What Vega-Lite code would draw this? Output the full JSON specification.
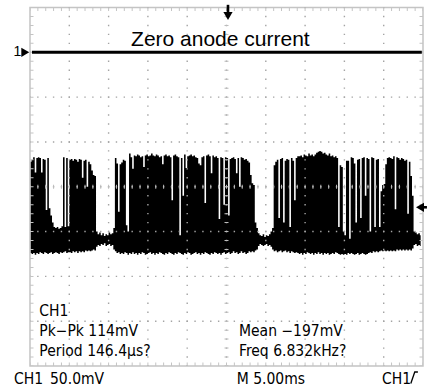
{
  "$schema": "https://vega.github.io/schema/vega-lite/v6.json",
  "autosize": {"type": "none"},
  "width": 393,
  "height": 358.5,
  "padding": {"left": 30, "top": 7.5, "right": 5, "bottom": 24},
  "background": "white",
  "config": {"view": {"stroke": "#c4c4c4", "strokeWidth": 1.5}},
  "datasets": {
    "signal": [
      {"t":-24.9,"hi":-122,"lo":-224},{"t":-24.7,"hi":-120,"lo":-225},{"t":-24.5,"hi":-117,"lo":-224},{"t":-24.3,"hi":-134,"lo":-226},
      {"t":-24.1,"hi":-118,"lo":-224},{"t":-23.9,"hi":-117,"lo":-225},{"t":-23.7,"hi":-118,"lo":-223},{"t":-23.5,"hi":-134,"lo":-224},
      {"t":-23.3,"hi":-119,"lo":-225},{"t":-23.1,"hi":-120,"lo":-223},{"t":-22.9,"hi":-176,"lo":-224},{"t":-22.7,"hi":-118,"lo":-225},
      {"t":-22.5,"hi":-174,"lo":-224},{"t":-22.3,"hi":-182,"lo":-223},{"t":-22.1,"hi":-190,"lo":-225},{"t":-21.9,"hi":-195,"lo":-224},
      {"t":-21.7,"hi":-196,"lo":-223},{"t":-21.5,"hi":-195,"lo":-224},{"t":-21.3,"hi":-197,"lo":-225},{"t":-21.1,"hi":-196,"lo":-223},
      {"t":-20.9,"hi":-194,"lo":-224},{"t":-20.7,"hi":-117,"lo":-223},{"t":-20.5,"hi":-195,"lo":-222},{"t":-20.3,"hi":-118,"lo":-224},
      {"t":-20.1,"hi":-194,"lo":-223},{"t":-19.9,"hi":-120,"lo":-223},{"t":-19.7,"hi":-119,"lo":-224},{"t":-19.5,"hi":-121,"lo":-222},
      {"t":-19.3,"hi":-119,"lo":-223},{"t":-19.1,"hi":-120,"lo":-222},{"t":-18.9,"hi":-122,"lo":-224},{"t":-18.7,"hi":-119,"lo":-222},
      {"t":-18.5,"hi":-120,"lo":-223},{"t":-18.3,"hi":-140,"lo":-222},{"t":-18.1,"hi":-121,"lo":-223},{"t":-17.9,"hi":-120,"lo":-221},
      {"t":-17.7,"hi":-150,"lo":-222},{"t":-17.5,"hi":-122,"lo":-221},{"t":-17.3,"hi":-125,"lo":-222},{"t":-17.1,"hi":-132,"lo":-221},
      {"t":-16.9,"hi":-137,"lo":-220},{"t":-16.7,"hi":-138,"lo":-221},{"t":-16.5,"hi":-200,"lo":-217},{"t":-16.3,"hi":-203,"lo":-215},
      {"t":-16.1,"hi":-201,"lo":-216},{"t":-15.9,"hi":-204,"lo":-214},{"t":-15.7,"hi":-202,"lo":-215},{"t":-15.5,"hi":-205,"lo":-213},
      {"t":-15.3,"hi":-203,"lo":-216},{"t":-15.1,"hi":-204,"lo":-215},{"t":-14.9,"hi":-201,"lo":-214},{"t":-14.7,"hi":-203,"lo":-216},
      {"t":-14.5,"hi":-202,"lo":-215},{"t":-14.3,"hi":-196,"lo":-220},{"t":-14.1,"hi":-118,"lo":-222},{"t":-13.9,"hi":-124,"lo":-224},
      {"t":-13.7,"hi":-178,"lo":-223},{"t":-13.5,"hi":-125,"lo":-225},{"t":-13.3,"hi":-123,"lo":-224},{"t":-13.1,"hi":-120,"lo":-225},
      {"t":-12.9,"hi":-121,"lo":-223},{"t":-12.7,"hi":-193,"lo":-224},{"t":-12.5,"hi":-200,"lo":-226},{"t":-12.3,"hi":-113,"lo":-224},
      {"t":-12.1,"hi":-117,"lo":-225},{"t":-11.9,"hi":-130,"lo":-223},{"t":-11.7,"hi":-115,"lo":-225},{"t":-11.5,"hi":-116,"lo":-224},
      {"t":-11.3,"hi":-114,"lo":-226},{"t":-11.1,"hi":-115,"lo":-224},{"t":-10.9,"hi":-117,"lo":-225},{"t":-10.7,"hi":-116,"lo":-223},
      {"t":-10.5,"hi":-128,"lo":-224},{"t":-10.3,"hi":-115,"lo":-226},{"t":-10.1,"hi":-114,"lo":-225},{"t":-9.9,"hi":-116,"lo":-224},
      {"t":-9.7,"hi":-115,"lo":-223},{"t":-9.5,"hi":-113,"lo":-225},{"t":-9.3,"hi":-115,"lo":-224},{"t":-9.1,"hi":-116,"lo":-226},
      {"t":-8.9,"hi":-114,"lo":-224},{"t":-8.7,"hi":-115,"lo":-225},{"t":-8.5,"hi":-117,"lo":-223},{"t":-8.3,"hi":-116,"lo":-224},
      {"t":-8.1,"hi":-125,"lo":-225},{"t":-7.9,"hi":-115,"lo":-226},{"t":-7.7,"hi":-114,"lo":-224},{"t":-7.5,"hi":-116,"lo":-225},
      {"t":-7.3,"hi":-115,"lo":-223},{"t":-7.1,"hi":-117,"lo":-224},{"t":-6.9,"hi":-165,"lo":-225},{"t":-6.7,"hi":-115,"lo":-226},
      {"t":-6.5,"hi":-114,"lo":-224},{"t":-6.3,"hi":-116,"lo":-225},{"t":-6.1,"hi":-117,"lo":-223},{"t":-5.9,"hi":-204,"lo":-224},
      {"t":-5.7,"hi":-118,"lo":-225},{"t":-5.5,"hi":-160,"lo":-226},{"t":-5.3,"hi":-114,"lo":-224},{"t":-5.1,"hi":-129,"lo":-225},
      {"t":-4.9,"hi":-116,"lo":-223},{"t":-4.7,"hi":-115,"lo":-224},{"t":-4.5,"hi":-114,"lo":-226},{"t":-4.3,"hi":-116,"lo":-225},
      {"t":-4.1,"hi":-115,"lo":-224},{"t":-3.9,"hi":-117,"lo":-223},{"t":-3.7,"hi":-118,"lo":-225},{"t":-3.5,"hi":-124,"lo":-224},
      {"t":-3.3,"hi":-126,"lo":-226},{"t":-3.1,"hi":-117,"lo":-224},{"t":-2.9,"hi":-116,"lo":-225},{"t":-2.7,"hi":-168,"lo":-223},
      {"t":-2.5,"hi":-115,"lo":-224},{"t":-2.3,"hi":-114,"lo":-225},{"t":-2.1,"hi":-116,"lo":-226},{"t":-1.9,"hi":-135,"lo":-224},
      {"t":-1.7,"hi":-115,"lo":-225},{"t":-1.5,"hi":-117,"lo":-223},{"t":-1.3,"hi":-116,"lo":-224},{"t":-1.1,"hi":-118,"lo":-225},
      {"t":-0.9,"hi":-186,"lo":-224},{"t":-0.7,"hi":-117,"lo":-226},{"t":-0.5,"hi":-118,"lo":-224},{"t":-0.3,"hi":-170,"lo":-223},
      {"t":-0.1,"hi":-117,"lo":-225},{"t":0.1,"hi":-118,"lo":-224},{"t":0.3,"hi":-182,"lo":-223},{"t":0.5,"hi":-119,"lo":-225},
      {"t":0.7,"hi":-118,"lo":-224},{"t":0.9,"hi":-117,"lo":-222},{"t":1.1,"hi":-119,"lo":-224},{"t":1.3,"hi":-135,"lo":-223},
      {"t":1.5,"hi":-118,"lo":-225},{"t":1.7,"hi":-150,"lo":-224},{"t":1.9,"hi":-117,"lo":-222},{"t":2.1,"hi":-118,"lo":-224},
      {"t":2.3,"hi":-120,"lo":-223},{"t":2.5,"hi":-119,"lo":-225},{"t":2.7,"hi":-121,"lo":-224},{"t":2.9,"hi":-123,"lo":-222},
      {"t":3.1,"hi":-137,"lo":-223},{"t":3.3,"hi":-146,"lo":-222},{"t":3.5,"hi":-148,"lo":-223},{"t":3.7,"hi":-190,"lo":-221},
      {"t":3.9,"hi":-196,"lo":-220},{"t":4.1,"hi":-202,"lo":-216},{"t":4.3,"hi":-204,"lo":-214},{"t":4.5,"hi":-205,"lo":-215},
      {"t":4.7,"hi":-203,"lo":-216},{"t":4.9,"hi":-206,"lo":-215},{"t":5.1,"hi":-204,"lo":-214},{"t":5.3,"hi":-205,"lo":-216},
      {"t":5.5,"hi":-203,"lo":-215},{"t":5.7,"hi":-200,"lo":-217},{"t":5.9,"hi":-196,"lo":-220},{"t":6.1,"hi":-126,"lo":-222},
      {"t":6.3,"hi":-122,"lo":-221},{"t":6.5,"hi":-120,"lo":-223},{"t":6.7,"hi":-185,"lo":-222},{"t":6.9,"hi":-119,"lo":-221},
      {"t":7.1,"hi":-118,"lo":-223},{"t":7.3,"hi":-190,"lo":-222},{"t":7.5,"hi":-121,"lo":-221},{"t":7.7,"hi":-119,"lo":-223},
      {"t":7.9,"hi":-120,"lo":-222},{"t":8.1,"hi":-195,"lo":-224},{"t":8.3,"hi":-118,"lo":-222},{"t":8.5,"hi":-121,"lo":-223},
      {"t":8.7,"hi":-165,"lo":-224},{"t":8.9,"hi":-118,"lo":-223},{"t":9.1,"hi":-116,"lo":-224},{"t":9.3,"hi":-116,"lo":-225},
      {"t":9.5,"hi":-115,"lo":-224},{"t":9.7,"hi":-117,"lo":-226},{"t":9.9,"hi":-114,"lo":-224},{"t":10.1,"hi":-115,"lo":-225},
      {"t":10.3,"hi":-116,"lo":-223},{"t":10.5,"hi":-113,"lo":-224},{"t":10.7,"hi":-115,"lo":-225},{"t":10.9,"hi":-114,"lo":-224},
      {"t":11.1,"hi":-116,"lo":-226},{"t":11.3,"hi":-114,"lo":-224},{"t":11.5,"hi":-112,"lo":-225},{"t":11.7,"hi":-111,"lo":-223},
      {"t":11.9,"hi":-110,"lo":-225},{"t":12.1,"hi":-111,"lo":-224},{"t":12.3,"hi":-113,"lo":-226},{"t":12.5,"hi":-112,"lo":-224},
      {"t":12.7,"hi":-114,"lo":-225},{"t":12.9,"hi":-115,"lo":-224},{"t":13.1,"hi":-113,"lo":-226},{"t":13.3,"hi":-116,"lo":-225},
      {"t":13.5,"hi":-115,"lo":-224},{"t":13.7,"hi":-117,"lo":-225},{"t":13.9,"hi":-116,"lo":-223},{"t":14.1,"hi":-118,"lo":-224},
      {"t":14.3,"hi":-195,"lo":-225},{"t":14.5,"hi":-126,"lo":-226},{"t":14.7,"hi":-128,"lo":-225},{"t":14.9,"hi":-200,"lo":-226},
      {"t":15.1,"hi":-204,"lo":-225},{"t":15.3,"hi":-121,"lo":-226},{"t":15.5,"hi":-121,"lo":-224},{"t":15.7,"hi":-208,"lo":-225},
      {"t":15.9,"hi":-117,"lo":-224},{"t":16.1,"hi":-118,"lo":-225},{"t":16.3,"hi":-124,"lo":-226},{"t":16.5,"hi":-190,"lo":-225},
      {"t":16.7,"hi":-120,"lo":-224},{"t":16.9,"hi":-119,"lo":-226},{"t":17.1,"hi":-185,"lo":-225},{"t":17.3,"hi":-118,"lo":-224},
      {"t":17.5,"hi":-117,"lo":-225},{"t":17.7,"hi":-160,"lo":-226},{"t":17.9,"hi":-118,"lo":-225},{"t":18.1,"hi":-119,"lo":-224},
      {"t":18.3,"hi":-200,"lo":-223},{"t":18.5,"hi":-117,"lo":-224},{"t":18.7,"hi":-118,"lo":-222},{"t":18.9,"hi":-195,"lo":-223},
      {"t":19.1,"hi":-120,"lo":-222},{"t":19.3,"hi":-119,"lo":-223},{"t":19.5,"hi":-195,"lo":-222},{"t":19.7,"hi":-155,"lo":-221},
      {"t":19.9,"hi":-148,"lo":-222},{"t":20.1,"hi":-147,"lo":-221},{"t":20.3,"hi":-125,"lo":-222},{"t":20.5,"hi":-118,"lo":-221},
      {"t":20.7,"hi":-117,"lo":-222},{"t":20.9,"hi":-118,"lo":-221},{"t":21.1,"hi":-119,"lo":-222},{"t":21.3,"hi":-116,"lo":-221},
      {"t":21.5,"hi":-175,"lo":-222},{"t":21.7,"hi":-117,"lo":-220},{"t":21.9,"hi":-118,"lo":-221},{"t":22.1,"hi":-120,"lo":-220},
      {"t":22.3,"hi":-118,"lo":-221},{"t":22.5,"hi":-119,"lo":-220},{"t":22.7,"hi":-121,"lo":-221},{"t":22.9,"hi":-120,"lo":-220},
      {"t":23.1,"hi":-180,"lo":-221},{"t":23.3,"hi":-122,"lo":-220},{"t":23.5,"hi":-138,"lo":-221},{"t":23.7,"hi":-160,"lo":-219},
      {"t":23.9,"hi":-200,"lo":-215},{"t":24.1,"hi":-201,"lo":-214},{"t":24.3,"hi":-203,"lo":-216},{"t":24.5,"hi":-202,"lo":-215},
      {"t":24.7,"hi":-204,"lo":-216}
    ],
    "vgrid": [{"gt":-20},{"gt":-15},{"gt":-10},{"gt":-5},{"gt":0},{"gt":5},{"gt":10},{"gt":15},{"gt":20}],
    "hgrid": [{"gv":-300},{"gv":-250},{"gv":-200},{"gv":-150},{"gv":-100},{"gv":-50},{"gv":0}],
    "hedge": [{"ev":50},{"ev":-350}],
    "vedge": [{"et":-25},{"et":25}],
    "zero": [{"t0":-24.75,"t1":24.85,"v":0}],
    "title": [{"label":"Zero anode current","t":-0.78,"v":7.4}],
    "readout": [
      {"label":"CH1","t":-23.82,"v":-294.2},
      {"label":"Pk−Pk 114mV","t":-23.82,"v":-316.5},
      {"label":"Period 146.4μs?","t":-23.82,"v":-338.9},
      {"label":"Mean −197mV","t":1.59,"v":-316.5},
      {"label":"Freq 6.832kHz?","t":1.59,"v":-338.9},
      {"label":"CH1","t":-27.04,"v":-370.1},
      {"label":"50.0mV","t":-22.46,"v":-370.1},
      {"label":"M 5.00ms","t":1.3,"v":-370.1},
      {"label":"CH1","t":19.78,"v":-370.1}
    ],
    "chan": [{"label":"1","t":-26.6,"v":0}],
    "markers": [
      {"t":-25.6,"v":0,"shape":"triangle-right"},
      {"t":0.19,"v":40.6,"shape":"triangle-down"},
      {"t":24.62,"v":-172.9,"shape":"triangle-left"}
    ],
    "stems": [
      {"t":0.19,"t2":0.19,"v":53,"v2":42},
      {"t":24.8,"t2":25.5,"v":-172.9,"v2":-172.9}
    ],
    "edge": [
      {"t":23.45,"v":-369.5,"k":0},
      {"t":23.95,"v":-356.7,"k":1},
      {"t":24.35,"v":-356.7,"k":2}
    ]
  },
  "layer": [
    {
      "data": {"name": "signal"},
      "mark": {"type": "area", "color": "black", "interpolate": "step", "opacity": 1},
      "encoding": {
        "x": {"field": "t", "type": "quantitative", "scale": {"domain": [-25, 25], "nice": false, "zero": false}, "axis": null},
        "y": {"field": "hi", "type": "quantitative", "scale": {"domain": [-350, 50], "nice": false, "zero": false}, "axis": null},
        "y2": {"field": "lo"}
      }
    },
    {
      "data": {"name": "vgrid"},
      "mark": {"type": "rule", "color": "#a4a4a4", "strokeWidth": 1.4, "strokeDash": [1.4, 7.5625], "strokeDashOffset": 0.7},
      "encoding": {
        "x": {"field": "gt", "type": "quantitative", "scale": {"domain": [-25, 25], "nice": false, "zero": false}, "axis": null}
      }
    },
    {
      "data": {"name": "hgrid"},
      "mark": {"type": "rule", "color": "#a4a4a4", "strokeWidth": 1.4, "strokeDash": [1.4, 6.46], "strokeDashOffset": 0.7},
      "encoding": {
        "y": {"field": "gv", "type": "quantitative", "scale": {"domain": [-350, 50], "nice": false, "zero": false}, "axis": null}
      }
    },
    {
      "data": {"values": [{"cv": -150}]},
      "mark": {"type": "rule", "color": "#bcbcbc", "strokeWidth": 4, "strokeDash": [1, 6.86], "strokeDashOffset": 0.5},
      "encoding": {
        "y": {"field": "cv", "type": "quantitative", "scale": {"domain": [-350, 50], "nice": false, "zero": false}, "axis": null}
      }
    },
    {
      "data": {"values": [{"ct": 0}]},
      "mark": {"type": "rule", "color": "#bcbcbc", "strokeWidth": 4, "strokeDash": [1, 7.9625], "strokeDashOffset": 0.5},
      "encoding": {
        "x": {"field": "ct", "type": "quantitative", "scale": {"domain": [-25, 25], "nice": false, "zero": false}, "axis": null}
      }
    },
    {
      "data": {"name": "hedge"},
      "mark": {"type": "rule", "color": "#c4c4c4", "strokeWidth": 7, "strokeDash": [1, 6.86], "strokeDashOffset": 0.5, "clip": true},
      "encoding": {
        "y": {"field": "ev", "type": "quantitative", "scale": {"domain": [-350, 50], "nice": false, "zero": false}, "axis": null}
      }
    },
    {
      "data": {"name": "vedge"},
      "mark": {"type": "rule", "color": "#c4c4c4", "strokeWidth": 7, "strokeDash": [1, 7.9625], "strokeDashOffset": 0.5, "clip": true},
      "encoding": {
        "x": {"field": "et", "type": "quantitative", "scale": {"domain": [-25, 25], "nice": false, "zero": false}, "axis": null}
      }
    },
    {
      "data": {"name": "zero"},
      "mark": {"type": "rule", "color": "black", "strokeWidth": 3},
      "encoding": {
        "x": {"field": "t0", "type": "quantitative", "scale": {"domain": [-25, 25], "nice": false, "zero": false}, "axis": null},
        "x2": {"field": "t1"},
        "y": {"field": "v", "type": "quantitative", "scale": {"domain": [-350, 50], "nice": false, "zero": false}, "axis": null}
      }
    },
    {
      "data": {"name": "title"},
      "mark": {"type": "text", "font": "Liberation Sans", "fontSize": 21, "align": "center", "baseline": "alphabetic", "color": "black"},
      "encoding": {
        "x": {"field": "t", "type": "quantitative", "scale": {"domain": [-25, 25], "nice": false, "zero": false}, "axis": null},
        "y": {"field": "v", "type": "quantitative", "scale": {"domain": [-350, 50], "nice": false, "zero": false}, "axis": null},
        "text": {"field": "label"}
      }
    },
    {
      "data": {"name": "readout"},
      "mark": {"type": "text", "font": "Liberation Sans Narrow, DejaVu Sans Condensed, Liberation Sans", "fontSize": 15.5, "align": "left", "baseline": "alphabetic", "color": "black"},
      "encoding": {
        "x": {"field": "t", "type": "quantitative", "scale": {"domain": [-25, 25], "nice": false, "zero": false}, "axis": null},
        "y": {"field": "v", "type": "quantitative", "scale": {"domain": [-350, 50], "nice": false, "zero": false}, "axis": null},
        "text": {"field": "label"}
      }
    },
    {
      "data": {"name": "chan"},
      "mark": {"type": "text", "font": "Liberation Sans", "fontSize": 14, "align": "center", "baseline": "middle", "color": "black"},
      "encoding": {
        "x": {"field": "t", "type": "quantitative", "scale": {"domain": [-25, 25], "nice": false, "zero": false}, "axis": null},
        "y": {"field": "v", "type": "quantitative", "scale": {"domain": [-350, 50], "nice": false, "zero": false}, "axis": null},
        "text": {"field": "label"}
      }
    },
    {
      "data": {"name": "markers"},
      "mark": {"type": "point", "filled": true, "color": "black", "opacity": 1, "size": 85},
      "encoding": {
        "x": {"field": "t", "type": "quantitative", "scale": {"domain": [-25, 25], "nice": false, "zero": false}, "axis": null},
        "y": {"field": "v", "type": "quantitative", "scale": {"domain": [-350, 50], "nice": false, "zero": false}, "axis": null},
        "shape": {"field": "shape", "type": "nominal", "scale": null, "legend": null}
      }
    },
    {
      "data": {"name": "stems"},
      "mark": {"type": "rule", "color": "black", "strokeWidth": 2.6},
      "encoding": {
        "x": {"field": "t", "type": "quantitative", "scale": {"domain": [-25, 25], "nice": false, "zero": false}, "axis": null},
        "x2": {"field": "t2"},
        "y": {"field": "v", "type": "quantitative", "scale": {"domain": [-350, 50], "nice": false, "zero": false}, "axis": null},
        "y2": {"field": "v2"}
      }
    },
    {
      "data": {"name": "edge"},
      "mark": {"type": "line", "color": "black", "strokeWidth": 1.3},
      "encoding": {
        "x": {"field": "t", "type": "quantitative", "scale": {"domain": [-25, 25], "nice": false, "zero": false}, "axis": null},
        "y": {"field": "v", "type": "quantitative", "scale": {"domain": [-350, 50], "nice": false, "zero": false}, "axis": null},
        "order": {"field": "k", "type": "quantitative"}
      }
    }
  ]
}
